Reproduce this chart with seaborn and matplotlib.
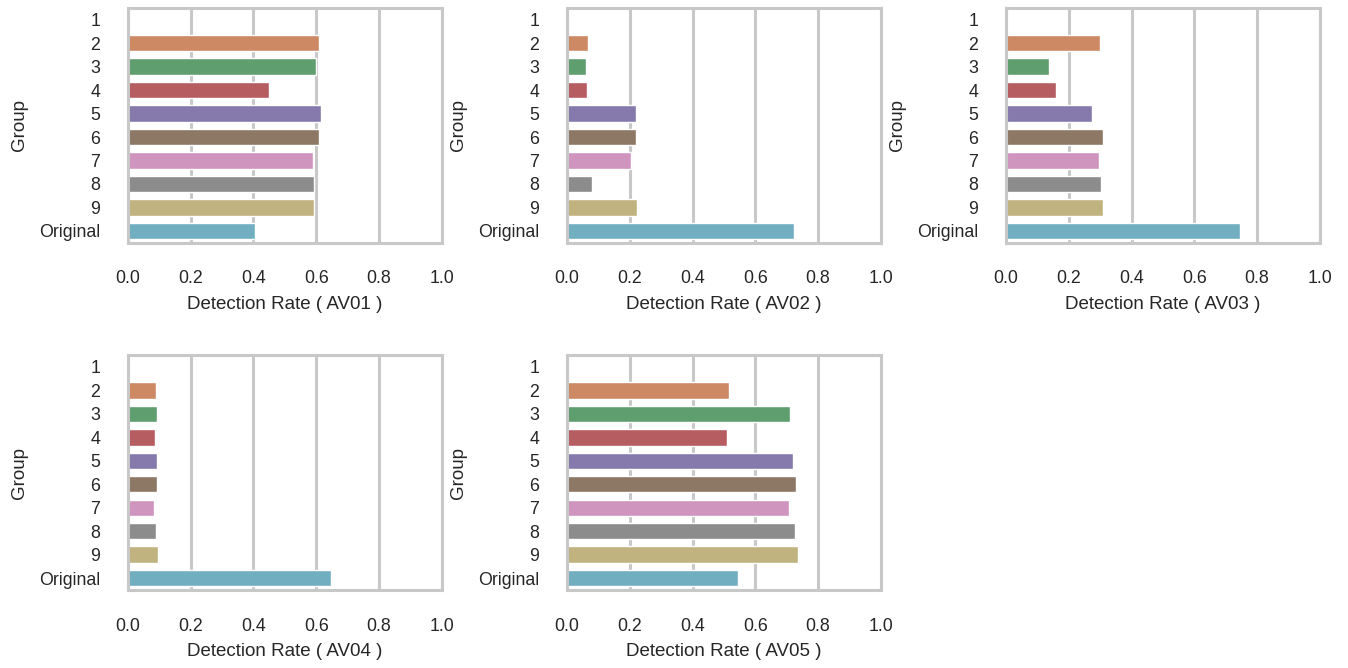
import pandas as pd
import numpy as np
import matplotlib
matplotlib.use("Agg")
import matplotlib.pyplot as plt
import seaborn as sns

# detection rates, one list per AV engine
groups = ['1', '2', '3', '4', '5', '6', '7', '8', '9', 'Original']
av01 = [0.004, 0.610, 0.600, 0.450, 0.615, 0.608, 0.589, 0.593, 0.593, 0.405]
av02 = [0.004, 0.067, 0.061, 0.063, 0.220, 0.220, 0.203, 0.079, 0.222, 0.725]
av03 = [0.0, 0.301, 0.136, 0.159, 0.273, 0.310, 0.295, 0.303, 0.310, 0.747]
av04 = [0.0, 0.089, 0.093, 0.087, 0.093, 0.091, 0.083, 0.090, 0.096, 0.647]
av05 = [0.0, 0.517, 0.711, 0.509, 0.719, 0.730, 0.709, 0.728, 0.735, 0.546]
av_names = ['AV01', 'AV02', 'AV03', 'AV04', 'AV05']

df = pd.DataFrame({'Group': groups, 'AV01': av01, 'AV02': av02,
                   'AV03': av03, 'AV04': av04, 'AV05': av05})

sns.set_theme(style="whitegrid")
plt.rcParams['font.family'] = ['Liberation Sans', 'DejaVu Sans']
plt.rcParams.update({
    'axes.edgecolor': '#c8c8c8',
    'axes.linewidth': 2.2,
    'grid.color': '#c8c8c8',
    'grid.linewidth': 2.2,
    'axes.labelsize': 13.5,
    'xtick.labelsize': 12.8,
    'ytick.labelsize': 12.8,
})

fig, axes = plt.subplots(2, 3, figsize=(13.48, 6.68), dpi=100)
axes = axes.flatten()

for i, name in enumerate(av_names):
    ax = axes[i]
    sns.barplot(data=df, x=name, y='Group', hue='Group', palette='deep',
                legend=False, width=0.7, ax=ax)
    ax.set_xlim(0, 1.0)
    ax.set_xticks([0, 0.2, 0.4, 0.6, 0.8, 1.0])
    ax.set_xlabel('Detection Rate ( %s )' % name, labelpad=6, color='#262626')
    ax.set_ylabel('Group', labelpad=8, color='#262626')
    ax.tick_params(axis='x', pad=20, colors='#262626', length=0)
    ax.tick_params(axis='y', pad=20, colors='#262626', length=0)
    for s in ax.spines.values():
        s.set_visible(True)

axes[5].axis('off')

plt.subplots_adjust(left=0.095, right=0.979, top=0.988, bottom=0.117,
                    wspace=0.40, hspace=0.48)
plt.savefig('out.png', dpi=100)
